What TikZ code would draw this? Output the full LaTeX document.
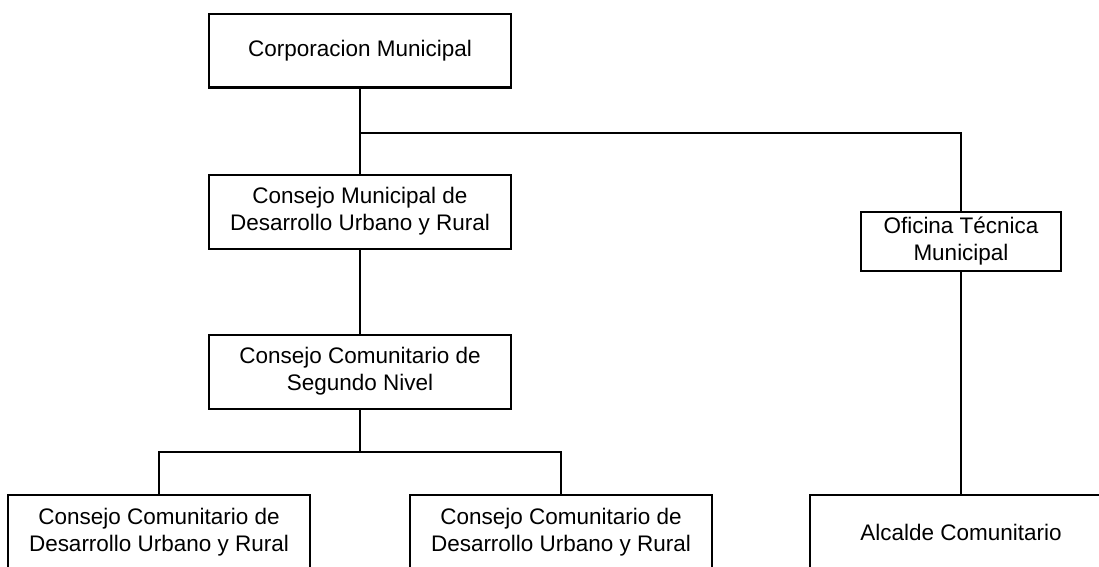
\documentclass[tikz,border=0pt]{standalone}
\usepackage{fontspec}
\setmainfont{Liberation Sans}
\usetikzlibrary{positioning}
\tikzset{
every picture/.style={line width=1.14pt},
%%%%%%%%%%  Node styles
unit/.style={draw, line width=1.14pt, align=center, inner sep=0pt,
             minimum width=6.04cm, minimum height=1.48cm,
             font=\fontsize{12.8}{15.4}\selectfont},
small_unit/.style={unit, minimum width=4cm, minimum height=1.18cm},
%%%% line style
link/.style={line width=1.14pt}
}

\begin{document}
\begin{tikzpicture}[x=0.02cm,y=-0.02cm]
\useasboundingbox (0,0) rectangle (1099,566);
\clip (0,0) rectangle (1099,566);
\node[unit] (corp) at (360,50.5) {Corporacion Municipal};
\node[unit] (cmdur) at (360,211.5) {Consejo Municipal de\\Desarrollo Urbano y Rural};
\node[unit] (ccsn) at (360,371.5) {Consejo Comunitario de\\Segundo Nivel};
\node[unit] (ccdur1) at (159,532) {Consejo Comunitario de\\Desarrollo Urbano y Rural};
\node[unit] (ccdur2) at (561,532) {Consejo Comunitario de\\Desarrollo Urbano y Rural};
\node[small_unit] (otm) at (961,241.5) {Oficina T\'ecnica\\Municipal};
\node[unit] (alcalde) at (961,532) {Alcalde Comunitario};
\coordinate (branch) at (360,133);
\coordinate (split) at (360,452);
\draw[link] (corp) -- (cmdur);
\draw[link] (branch) -| (otm);
\draw[link] (cmdur) -- (ccsn);
\draw[link] (ccsn) -- (split);
\draw[link] (ccdur1) |- (split) -| (ccdur2);
\draw[link] (otm) -- (alcalde);
\end{tikzpicture}
\end{document}
